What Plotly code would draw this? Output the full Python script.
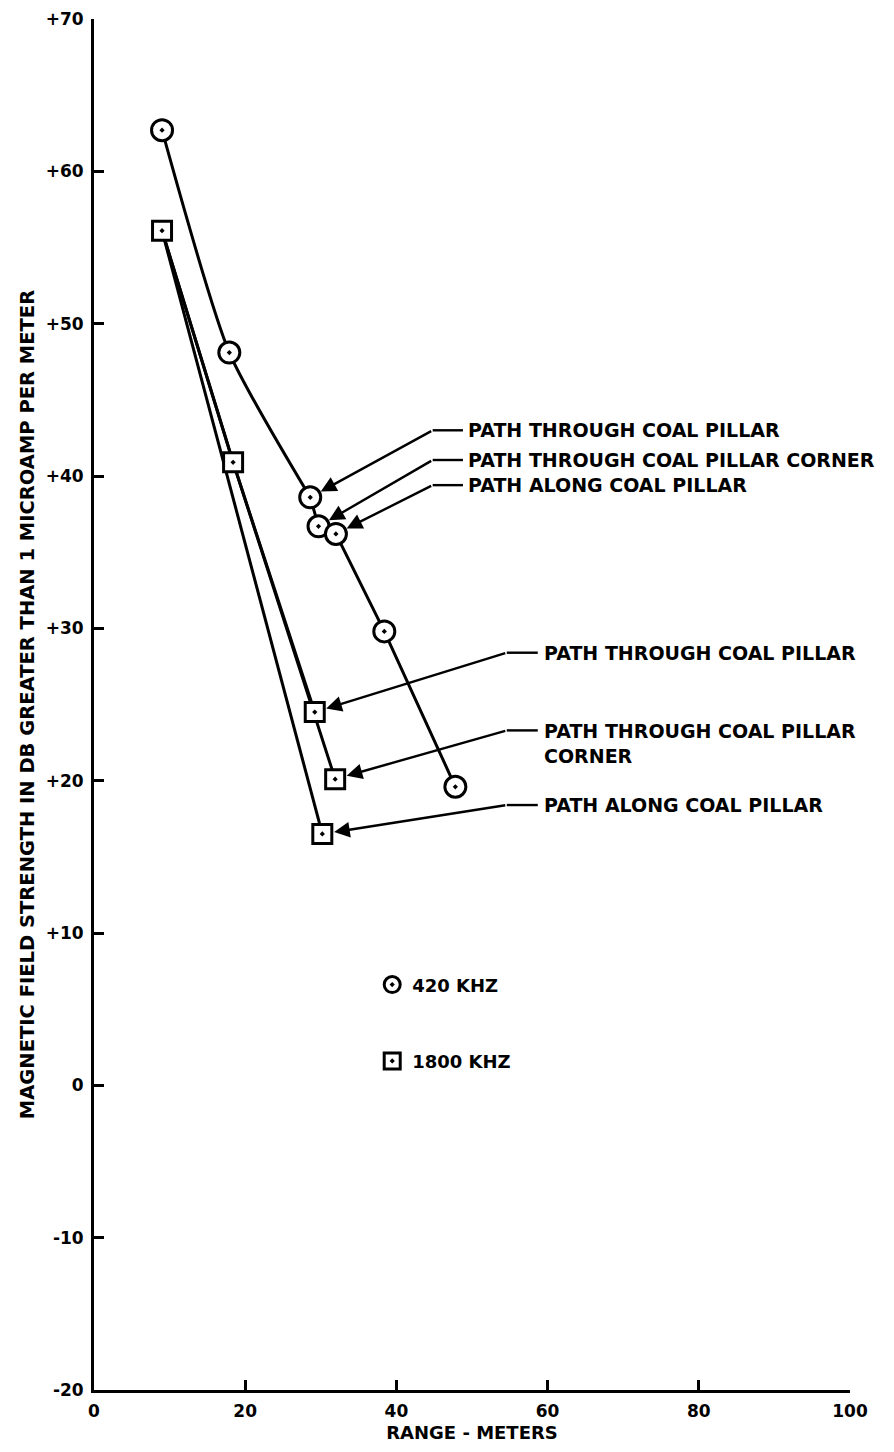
import plotly.graph_objects as go

# ---- data ----
range_420 = [9.0, 17.9, 28.6, 29.7, 32.0, 38.4, 47.8]
field_420 = [62.7, 48.1, 38.6, 36.7, 36.2, 29.8, 19.6]
n_curved_420 = 3  # first points joined by a smooth curve

range_1800 = [9.0, 18.4, 29.2, 31.9, 30.2]
field_1800 = [56.1, 40.9, 24.5, 20.1, 16.5]

# point indices making up each 1800 kHz path
paths_1800 = {
    "through": [0, 1, 2],
    "corner": [0, 1, 3],
    "along": [0, 4],
}

path_labels = {
    "through": "PATH THROUGH COAL PILLAR",
    "corner_420": "PATH THROUGH COAL PILLAR CORNER",
    "corner_1800": "PATH THROUGH COAL PILLAR<br>CORNER",
    "along": "PATH ALONG COAL PILLAR",
}
# which point each label points to
label_target_420 = {"through": 2, "corner": 3, "along": 4}
label_target_1800 = {"through": 2, "corner": 3, "along": 4}

x_ticks = [0, 20, 40, 60, 80, 100]
y_ticks = [-20, -10, 0, 10, 20, 30, 40, 50, 60, 70]
y_ticktext = ["-20", "-10", "0", "+10", "+20", "+30", "+40", "+50", "+60", "+70"]

legend_names = ["420 KHZ", "1800 KHZ"]

# ---- styling ----
FONT = "DejaVu Sans"
LW = 3

fig = go.Figure()

# lines first
fig.add_trace(go.Scatter(
    x=range_420[:n_curved_420], y=field_420[:n_curved_420], mode="lines",
    line=dict(color="black", width=LW, shape="spline", smoothing=0.6),
    showlegend=False, hoverinfo="skip"))
fig.add_trace(go.Scatter(
    x=range_420[n_curved_420 - 1:], y=field_420[n_curved_420 - 1:], mode="lines",
    line=dict(color="black", width=LW),
    showlegend=False, hoverinfo="skip"))
for key, idx in paths_1800.items():
    fig.add_trace(go.Scatter(
        x=[range_1800[i] for i in idx], y=[field_1800[i] for i in idx],
        mode="lines", line=dict(color="black", width=LW),
        showlegend=False, hoverinfo="skip"))

# markers on top
fig.add_trace(go.Scatter(
    x=range_420, y=field_420, mode="markers",
    marker=dict(symbol="circle-dot", size=21, color="white",
                line=dict(color="black", width=3)),
    showlegend=False))
fig.add_trace(go.Scatter(
    x=range_1800, y=field_1800, mode="markers",
    marker=dict(symbol="square-dot", size=19, color="white",
                line=dict(color="black", width=3)),
    showlegend=False))

# legend-only traces
for name, sym, grp in [(legend_names[0], "circle-dot", "a"),
                       (legend_names[1], "square-dot", "b")]:
    fig.add_trace(go.Scatter(
        x=[None], y=[None], mode="markers", name=name, legendgroup=grp,
        marker=dict(symbol=sym, size=16, color="white",
                    line=dict(color="black", width=3))))

# ---- leader lines and labels ----
upper = [("through", path_labels["through"], 43.0),
         ("corner", path_labels["corner_420"], 41.05),
         ("along", path_labels["along"], 39.4)]
lower = [("through", path_labels["through"], 28.4, 28.4),
         ("corner", path_labels["corner_1800"], 23.3, 22.45),
         ("along", path_labels["along"], 18.4, 18.4)]

bend_u, end_u, text_u = 44.8, 48.8, 49.2
bend_l, end_l, text_l = 54.6, 58.7, 59.2

LABEL_FONT = dict(family=FONT, size=19, color="black", weight="bold")
annots = []
shapes = []
for key, txt, yl in upper:
    i = label_target_420[key]
    annots.append(dict(x=range_420[i], y=field_420[i], xref="x", yref="y",
                       ax=bend_u, ay=yl, axref="x", ayref="y", text="",
                       showarrow=True, arrowhead=2, arrowsize=1.3,
                       arrowwidth=2.4, standoff=12, arrowcolor="black"))
    shapes.append(dict(type="line", xref="x", yref="y", x0=bend_u, x1=end_u,
                       y0=yl, y1=yl, line=dict(color="black", width=2.4)))
    annots.append(dict(x=text_u, y=yl, xref="x", yref="y", text=txt,
                       showarrow=False, xanchor="left", yanchor="middle",
                       font=LABEL_FONT))
for key, txt, yl, yt in lower:
    i = label_target_1800[key]
    annots.append(dict(x=range_1800[i], y=field_1800[i], xref="x", yref="y",
                       ax=bend_l, ay=yl, axref="x", ayref="y", text="",
                       showarrow=True, arrowhead=2, arrowsize=1.3,
                       arrowwidth=2.4, standoff=12, arrowcolor="black"))
    shapes.append(dict(type="line", xref="x", yref="y", x0=bend_l, x1=end_l,
                       y0=yl, y1=yl, line=dict(color="black", width=2.4)))
    annots.append(dict(x=text_l, y=yt, xref="x", yref="y", text=txt,
                       showarrow=False, xanchor="left", yanchor="middle",
                       align="left", font=LABEL_FONT))

tickfont = dict(family=FONT, size=17, color="black", weight="bold")
fig.update_layout(
    width=894, height=1452,
    margin=dict(l=86, r=52, t=11, b=70),
    paper_bgcolor="white", plot_bgcolor="white",
    annotations=annots, shapes=shapes,
    showlegend=True,
    legend=dict(x=0.368, y=0.309, xanchor="left", yanchor="top",
                traceorder="grouped", tracegroupgap=50,
                bgcolor="rgba(0,0,0,0)",
                font=dict(family=FONT, size=18, color="black", weight="bold")),
    xaxis=dict(range=[0, 100], tickvals=x_ticks, ticks="inside", ticklen=10,
               tickwidth=2.5, tickcolor="black", showline=True, linewidth=LW,
               linecolor="black", showgrid=False, zeroline=False,
               automargin=False,
               tickfont=tickfont, ticklabelstandoff=4,
               title=dict(text="RANGE - METERS", standoff=6,
                          font=dict(family=FONT, size=18, color="black", weight="bold"))),
    yaxis=dict(range=[-20, 70], tickvals=y_ticks, ticktext=y_ticktext,
               ticks="inside", ticklen=10, tickwidth=2.5, tickcolor="black",
               showline=True, linewidth=LW, linecolor="black", showgrid=False,
               zeroline=False, automargin=False,
               tickfont=tickfont, ticklabelstandoff=4,
               title=dict(text="MAGNETIC FIELD STRENGTH IN DB GREATER THAN 1 MICROAMP PER METER",
                          standoff=6,
                          font=dict(family=FONT, size=19.5, color="black", weight="bold"))),
)

fig.write_html("out.html")
